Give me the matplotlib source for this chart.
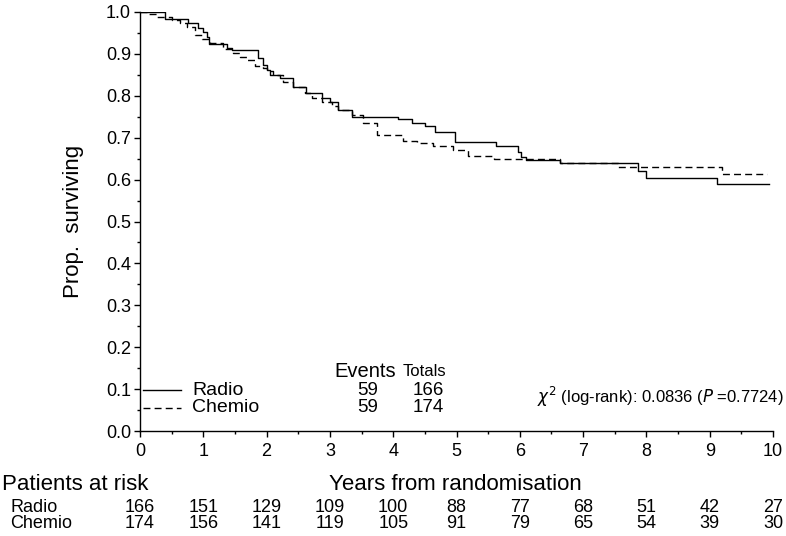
import numpy as np
import matplotlib
matplotlib.use("Agg")
import matplotlib.pyplot as plt
from matplotlib.transforms import blended_transform_factory

plt.rcParams['font.family'] = ['Liberation Sans', 'DejaVu Sans']

# Kaplan-Meier steps: (event time, survival after the drop)
radio_t = [0, 0.39, 0.76, 0.92, 1.0, 1.06, 1.09, 1.37, 1.45, 1.86, 1.94, 2.0, 2.05,
           2.21, 2.42, 2.63, 2.87, 3.0, 3.13, 3.35, 4.08, 4.3, 4.5, 4.66, 4.97,
           5.63, 5.97, 6.02, 6.1, 6.63, 7.87, 8.0, 9.12, 9.93]
radio_s = [1.0, 0.983, 0.973, 0.961, 0.953, 0.941, 0.923, 0.915, 0.909, 0.891, 0.874, 0.862, 0.850,
           0.842, 0.822, 0.807, 0.794, 0.786, 0.766, 0.750, 0.744, 0.735, 0.727, 0.713, 0.690,
           0.681, 0.665, 0.655, 0.647, 0.639, 0.620, 0.603, 0.589, 0.589]

chemio_t = [0, 0.13, 0.27, 0.5, 0.63, 0.74, 0.87, 0.98, 1.1, 1.31, 1.47, 1.58, 1.69,
            1.82, 1.95, 2.0, 2.1, 2.26, 2.42, 2.6, 2.71, 2.87, 3.03, 3.13, 3.35, 3.52,
            3.74, 4.16, 4.37, 4.63, 4.95, 5.18, 5.6, 6.63, 7.55, 9.19, 9.9]
chemio_s = [1.0, 0.995, 0.988, 0.981, 0.973, 0.965, 0.945, 0.935, 0.925, 0.911, 0.901, 0.893, 0.885,
            0.872, 0.866, 0.858, 0.850, 0.834, 0.820, 0.806, 0.794, 0.786, 0.776, 0.766, 0.754, 0.734,
            0.706, 0.693, 0.687, 0.679, 0.671, 0.657, 0.648, 0.639, 0.629, 0.613, 0.613]

groups = ["Radio", "Chemio"]
events = [59, 59]
totals = [166, 174]
risk_years = list(range(11))
risk_radio = [166, 151, 129, 109, 100, 88, 77, 68, 51, 42, 27]
risk_chemio = [174, 156, 141, 119, 105, 91, 79, 65, 54, 39, 30]

fig = plt.figure(figsize=(7.86, 5.36), dpi=100)
ax = fig.add_axes([140 / 786, 105 / 536, 633 / 786, 419 / 536])

ax.step(radio_t, radio_s, where="post", color="black", lw=1.0)
ax.step(chemio_t, chemio_s, where="post", color="black", lw=1.0, linestyle=(0, (5, 3)))

ax.set_xlim(0, 10)
ax.set_ylim(0, 1)
ax.spines["top"].set_visible(False)
ax.spines["right"].set_visible(False)
for s in ["left", "bottom"]:
    ax.spines[s].set_linewidth(1.0)
ax.set_xticks(np.arange(0, 11, 1))
ax.set_xticks(np.arange(0.5, 10, 1), minor=True)
ax.set_yticks(np.arange(0, 1.01, 0.1))
ax.set_yticks(np.arange(0.05, 1.0, 0.1), minor=True)
ax.set_yticklabels(["%.1f" % v for v in np.arange(0, 1.01, 0.1)])
ax.tick_params(which="major", length=4.5, width=1.0, labelsize=13, direction="out")
ax.tick_params(which="minor", length=2.5, width=1.0, direction="out")
ax.tick_params(axis="x", pad=4)
ax.tick_params(axis="y", pad=2)
ax.set_ylabel("Prop.  surviving", fontsize=16)
ax.yaxis.set_label_coords(-0.088, 0.5)

# legend-like block with events / totals
rows_y = [0.097, 0.056]
ax.plot([0.05, 0.65], [rows_y[0]] * 2, color="black", lw=1.0)
ax.plot([0.05, 0.65], [rows_y[1]] * 2, color="black", lw=1.0, linestyle=(0, (5, 3)))
for name, ev, tot, y in zip(groups, events, totals, rows_y):
    ax.text(0.82, y, name, fontsize=14, va="center", ha="left")
    ax.text(3.6, y, str(ev), fontsize=13.5, va="center", ha="center")
    ax.text(4.55, y, str(tot), fontsize=13.5, va="center", ha="center")
ax.text(3.55, 0.143, "Events", fontsize=14.5, va="center", ha="center")
ax.text(4.5, 0.141, "Totals", fontsize=12, va="center", ha="center")
ax.text(10.17, 0.081, r"$\chi^2$ (log-rank): 0.0836 ($P$ =0.7724)", fontsize=12,
        va="center", ha="right")

# numbers at risk table
tr = blended_transform_factory(ax.transData, fig.transFigure)
fig.text(2 / 786, 1 - 484 / 536, "Patients at risk", fontsize=16, va="center", ha="left")
fig.text(455 / 786, 1 - 484 / 536, "Years from randomisation", fontsize=16, va="center", ha="center")
fig.text(10 / 786, 1 - 507 / 536, groups[0], fontsize=13, va="center", ha="left")
fig.text(10 / 786, 1 - 523 / 536, groups[1], fontsize=13, va="center", ha="left")
for yr, r1, r2 in zip(risk_years, risk_radio, risk_chemio):
    fig.text(yr, 1 - 507 / 536, str(r1), fontsize=13, va="center", ha="center", transform=tr)
    fig.text(yr, 1 - 523 / 536, str(r2), fontsize=13, va="center", ha="center", transform=tr)

fig.savefig("out.png", dpi=100)
